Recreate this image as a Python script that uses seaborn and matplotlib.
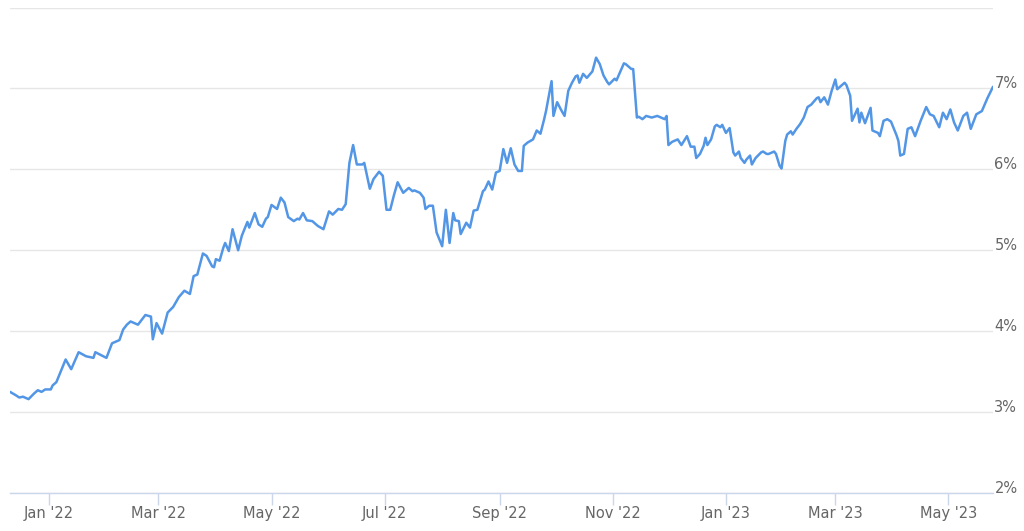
import matplotlib
matplotlib.use('Agg')

import matplotlib.pyplot as plt
import seaborn as sns
import pandas as pd

# fechas como dias desde el inicio de la serie
start_date = '2021-12-11'
day_offsets = [
    0, 3, 5, 7, 10, 13, 15, 17, 19, 22,
    23, 25, 30, 33, 37, 41, 45, 46, 52, 55,
    59, 61, 63, 65, 69, 73, 76, 77, 79, 82,
    85, 88, 91, 94, 97, 99, 101, 104, 106, 109,
    110, 111, 113, 115, 116, 118, 120, 123, 125, 128,
    129, 132, 134, 136, 138, 139, 141, 144, 146, 148,
    150, 153, 155, 156, 158, 160, 163, 166, 169, 172,
    174, 177, 179, 181, 183, 185, 187, 190, 191, 194,
    196, 199, 201, 203, 205, 207, 209, 212, 215, 217,
    218, 221, 223, 224, 226, 228, 230, 233, 235, 237,
    239, 240, 242, 243, 246, 248, 250, 252, 255, 256,
    258, 260, 262, 264, 266, 268, 270, 272, 274, 276,
    277, 279, 282, 284, 286, 288, 289, 292, 293, 295,
    297, 299, 301, 303, 305, 306, 307, 309, 311, 314,
    316, 318, 320, 322, 323, 326, 327, 331, 332, 335,
    336, 338, 339, 341, 343, 346, 349, 351, 353, 354,
    355, 357, 360, 362, 365, 367, 369, 370, 372, 374,
    375, 376, 378, 380, 381, 383, 384, 386, 388, 390,
    391, 393, 394, 396, 397, 399, 400, 402, 405, 406,
    408, 409, 412, 413, 415, 416, 418, 419, 421, 422,
    424, 426, 428, 430, 432, 435, 436, 437, 439, 441,
    443, 445, 446, 450, 451, 453, 454, 457, 458, 459,
    461, 464, 465, 468, 469, 471, 473, 475, 478, 479,
    480, 482, 484, 486, 488, 491, 494, 496, 498, 501,
    503, 505, 507, 509, 511, 514, 516, 518, 521, 524,
    527, 530,
]

rates = [
    3.25, 3.21, 3.18, 3.19, 3.16, 3.23, 3.27, 3.25, 3.28, 3.28,
    3.33, 3.37, 3.65, 3.53, 3.74, 3.69, 3.67, 3.74, 3.67, 3.85,
    3.89, 4.02, 4.08, 4.12, 4.08, 4.20, 4.18, 3.90, 4.10, 3.97,
    4.23, 4.30, 4.42, 4.50, 4.46, 4.68, 4.70, 4.96, 4.93, 4.80,
    4.79, 4.89, 4.87, 5.03, 5.09, 4.99, 5.26, 5.00, 5.18, 5.35,
    5.28, 5.46, 5.32, 5.29, 5.39, 5.41, 5.56, 5.51, 5.65, 5.59,
    5.41, 5.36, 5.39, 5.38, 5.46, 5.37, 5.36, 5.30, 5.26, 5.48,
    5.44, 5.51, 5.50, 5.57, 6.08, 6.30, 6.06, 6.06, 6.08, 5.76,
    5.88, 5.97, 5.92, 5.50, 5.50, 5.68, 5.84, 5.71, 5.77, 5.73,
    5.74, 5.71, 5.65, 5.51, 5.55, 5.55, 5.22, 5.05, 5.50, 5.09,
    5.46, 5.37, 5.36, 5.20, 5.34, 5.28, 5.49, 5.50, 5.73, 5.75,
    5.85, 5.75, 5.96, 5.98, 6.25, 6.08, 6.26, 6.06, 5.98, 5.98,
    6.29, 6.33, 6.37, 6.48, 6.44, 6.62, 6.72, 7.09, 6.66, 6.83,
    6.74, 6.66, 6.97, 7.07, 7.15, 7.16, 7.07, 7.18, 7.13, 7.21,
    7.38, 7.30, 7.16, 7.08, 7.05, 7.12, 7.10, 7.31, 7.30, 7.24,
    7.24, 6.64, 6.65, 6.62, 6.66, 6.64, 6.66, 6.64, 6.62, 6.66,
    6.30, 6.34, 6.37, 6.30, 6.41, 6.28, 6.28, 6.14, 6.19, 6.29,
    6.39, 6.30, 6.37, 6.53, 6.55, 6.52, 6.55, 6.45, 6.51, 6.21,
    6.17, 6.22, 6.14, 6.08, 6.12, 6.17, 6.06, 6.14, 6.21, 6.22,
    6.19, 6.19, 6.22, 6.19, 6.04, 6.01, 6.35, 6.43, 6.47, 6.43,
    6.50, 6.56, 6.64, 6.77, 6.80, 6.88, 6.89, 6.83, 6.89, 6.80,
    6.97, 7.11, 6.99, 7.07, 7.04, 6.91, 6.60, 6.75, 6.58, 6.70,
    6.57, 6.76, 6.48, 6.45, 6.41, 6.60, 6.62, 6.59, 6.42, 6.35,
    6.17, 6.19, 6.50, 6.52, 6.41, 6.60, 6.77, 6.68, 6.66, 6.52,
    6.70, 6.62, 6.74, 6.58, 6.48, 6.66, 6.70, 6.50, 6.68, 6.72,
    6.88, 7.02,
]

y_ticks = [2, 3, 4, 5, 6, 7, 8]
y_labels = ['2%', '3%', '4%', '5%', '6%', '7%', '']
x_tick_dates = ['2022-01-01', '2022-03-01', '2022-05-01', '2022-07-01', '2022-09-01',
                '2022-11-01', '2023-01-01', '2023-03-01', '2023-05-01']

start = pd.to_datetime(start_date)
df = pd.DataFrame({
    'date': start + pd.to_timedelta(day_offsets, unit='D'),
    'rate': rates,
})

sns.set_style('white')
plt.rcParams['font.family'] = ['DejaVu Sans']

fig = plt.figure(figsize=(10.24, 5.31), dpi=100)
ax = fig.add_axes([10 / 1024, 38 / 531, 983 / 1024, 485.5 / 531])

sns.lineplot(data=df, x='date', y='rate', ax=ax, color='#5296e5', linewidth=1.8)

ax.set_xlim(start, start + pd.Timedelta(days=530))
ax.set_ylim(2, 8)

# ejes y rejilla
for side in ['top', 'left', 'right']:
    ax.spines[side].set_visible(False)
ax.spines['bottom'].set_color('#ccd6eb')
ax.spines['bottom'].set_linewidth(1)
ax.grid(axis='y', color='#e6e6e6', linewidth=1)
ax.grid(axis='x', visible=False)
ax.set_axisbelow(True)

ax.yaxis.tick_right()
ax.set_yticks(y_ticks, labels=y_labels)
ax.tick_params(axis='y', left=False, right=False, length=0, pad=1,
               labelsize=10.5, labelcolor='#666666')
for lbl in ax.get_yticklabels():
    lbl.set_va('baseline')

x_ticks = pd.to_datetime(x_tick_dates)
ax.set_xticks(x_ticks, labels=[d.strftime("%b '%y") for d in x_ticks])
ax.tick_params(axis='x', bottom=True, direction='out', length=8.5, width=1,
               color='#ccd6eb', pad=1, labelsize=10.5, labelcolor='#666666')

ax.set_xlabel('')
ax.set_ylabel('')

plt.savefig('out.png', dpi=100)
plt.close(fig)
